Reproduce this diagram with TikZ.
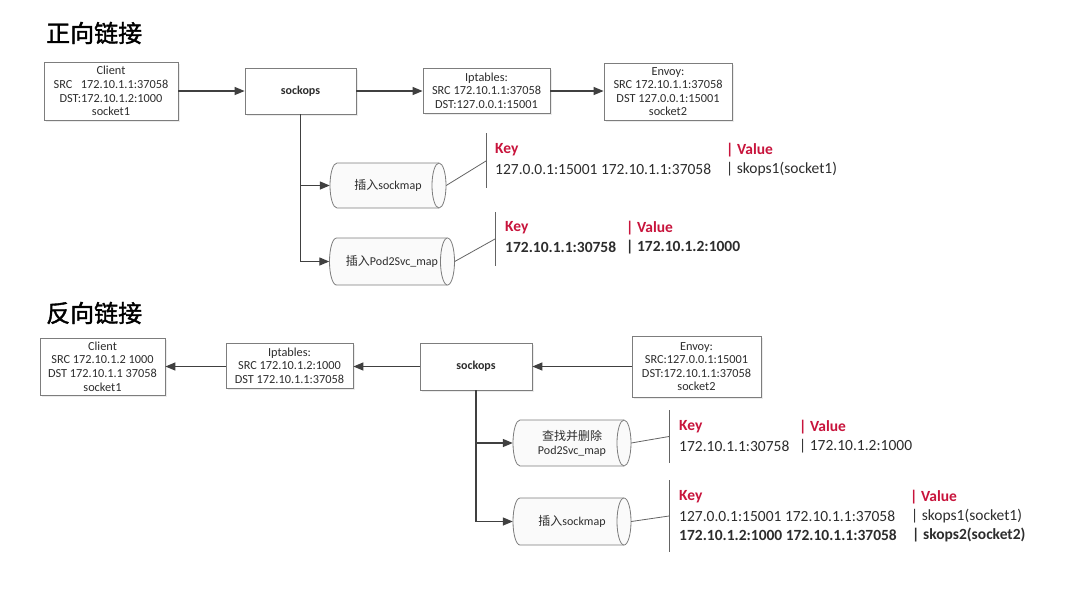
\documentclass[tikz,border=0pt]{standalone}
\usepackage{fontspec}
\setmainfont{Carlito}
\newfontfamily\cjk{Noto Sans CJK SC}
\newfontfamily\cjkb[FakeBold=1.5]{Noto Sans CJK SC}
\usetikzlibrary{arrows.meta,shadows,calc}
\definecolor{keyred}{RGB}{200,20,60}
\definecolor{txt}{RGB}{45,45,45}
\definecolor{ln}{RGB}{64,64,64}
\definecolor{bd}{RGB}{125,125,125}
\newcommand\mycyl[6]{%
  \filldraw[cylb] (#2-#4/2+7,#3-#5/2) arc[start angle=90,end angle=270,x radius=7pt,y radius={#5*0.5pt}]
     -- (#2+#4/2-7,#3+#5/2) arc[start angle=-90,end angle=90,x radius=7pt,y radius={#5*0.5pt}] -- cycle;
  \draw[cylb] (#2+#4/2-7,#3-#5/2) arc[start angle=90,end angle=270,x radius=7pt,y radius={#5*0.5pt}];
  \node[cylt,minimum width=#4pt,minimum height=#5pt] (#1) at (#2,#3) {#6};}
\begin{document}
\begin{tikzpicture}[x=1pt,y=-1pt,
  box/.style={draw=bd, line width=0.8pt, fill=white, inner sep=0pt, align=center, text=txt,
     font=\fontsize{12.3}{13.6}\selectfont,
     drop shadow={opacity=0.15,shadow xshift=1.5pt,shadow yshift=-1.5pt}},
  sbox/.style={box, font=\fontsize{12}{14}\selectfont\bfseries},
  arr/.style={draw=ln, line width=1.3pt, -{Triangle[length=10pt,width=8pt]}},
  cylb/.style={draw=bd, line width=0.8pt, fill=gray!4},
  cylt/.style={inner sep=0pt, align=center, text=txt, font=\fontsize{12}{14}\selectfont},
  brk/.style={draw=bd!80!black, line width=0.8pt},
  kv/.style={anchor=west, inner sep=0pt, text=txt, font=\fontsize{15.5}{18}\selectfont},
  kvb/.style={kv, font=\fontsize{15.5}{18}\selectfont\bfseries},
  key/.style={kv, text=keyred, font=\fontsize{15.5}{18}\selectfont\bfseries},
  ttl/.style={anchor=west, inner sep=0pt, text=black, font=\cjkb\fontsize{24}{28}\selectfont}
]
\useasboundingbox[fill=white] (0,0) rectangle (1080,590);

% ---------- forward ----------
\node[ttl] (t1) at (46,33) {正向链接};
\node[box, minimum width=134pt, minimum height=58pt] (client1) at (111,91)
  {Client\\SRC\ \ \ 172.10.1.1:37058\\DST:172.10.1.2:1000\\socket1};
\node[sbox, minimum width=111pt, minimum height=46pt] (sock1) at (300.5,91) {sockops};
\node[box, minimum width=127pt, minimum height=45pt] (ipt1) at (486.5,90.5)
  {Iptables:\\SRC 172.10.1.1:37058\\DST:127.0.0.1:15001};
\node[box, minimum width=128pt, minimum height=57pt] (env1) at (668,91.5)
  {Envoy:\\SRC 172.10.1.1:37058\\DST 127.0.0.1:15001\\socket2};
\draw[arr] (client1.east |- sock1.west) -- (sock1.west);
\draw[arr] (sock1.east) -- (ipt1.west |- sock1.east);
\draw[arr] (ipt1.east |- sock1.east) -- (env1.west |- sock1.east);

\mycyl{cyl1}{388}{185.5}{116}{45}{{\cjk 插入}sockmap}
\mycyl{cyl2}{392}{261.5}{125}{47}{{\cjk 插入}Pod2Svc\_map}
\draw[arr] (sock1.south) |- (cyl1.west);
\draw[arr] (sock1.south) |- (cyl2.west);

\coordinate (b1t) at (486,133); \coordinate (b1b) at (486,188); \coordinate (b1m) at (486,161);
\draw[brk] (b1t) -- (b1b);
\draw[brk] (cyl1.east) -- (b1m);
\node[key] (k1) at (495,150) {Key};
\node[key] (v1) at (726,150) {| Value};
\node[kv] (k1a) at (495,169) {127.0.0.1:15001 172.10.1.1:37058};
\node[kv] (v1a) at (726,169) {| skops1(socket1)};

\coordinate (b2t) at (495,212); \coordinate (b2b) at (495,266); \coordinate (b2m) at (495,239);
\draw[brk] (b2t) -- (b2b);
\draw[brk] (cyl2.east) -- (b2m);
\node[key] (k2) at (505,228) {Key};
\node[key] (v2) at (626,228) {| Value};
\node[kvb] (k2a) at (505,247) {172.10.1.1:30758};
\node[kvb] (v2a) at (626,247) {| 172.10.1.2:1000};

% ---------- reverse ----------
\node[ttl] (t2) at (46,313) {反向链接};
\node[box, minimum width=125pt, minimum height=57pt] (client2) at (102.5,366.5)
  {Client\\SRC 172.10.1.2 1000\\DST 172.10.1.1 37058\\socket1};
\node[box, minimum width=127pt, minimum height=45pt] (ipt2) at (289.5,365.5)
  {Iptables:\\SRC 172.10.1.2:1000\\DST 172.10.1.1:37058};
\node[sbox, minimum width=112pt, minimum height=47pt] (sock2) at (476,366.5) {sockops};
\node[box, minimum width=129pt, minimum height=61pt] (env2) at (696.5,366.5)
  {Envoy:\\SRC:127.0.0.1:15001\\DST:172.10.1.1:37058\\socket2};
\draw[arr] (env2.west |- sock2.east) -- (sock2.east);
\draw[arr] (sock2.west) -- (ipt2.east |- sock2.west);
\draw[arr] (ipt2.west |- sock2.west) -- (client2.east |- sock2.west);

\mycyl{cyl3}{572}{443}{118}{46}{{\cjk 查找并删除}\\Pod2Svc\_map}
\mycyl{cyl4}{572}{521.5}{118}{47}{{\cjk 插入}sockmap}
\draw[arr] (sock2.south) |- (cyl3.west);
\draw[arr] (sock2.south) |- (cyl4.west);

\coordinate (b3t) at (669,410); \coordinate (b3b) at (669,463); \coordinate (b3m) at (669,436.5);
\draw[brk] (b3t) -- (b3b);
\draw[brk] (cyl3.east) -- (b3m);
\node[key] (k3) at (679,427) {Key};
\node[key] (v3) at (799,427) {| Value};
\node[kv] (k3a) at (679,446) {172.10.1.1:30758};
\node[kv] (v3a) at (799,446) {| 172.10.1.2:1000};

\coordinate (b4t) at (669,480); \coordinate (b4b) at (669,552); \coordinate (b4m) at (669,516);
\draw[brk] (b4t) -- (b4b);
\draw[brk] (cyl4.east) -- (b4m);
\node[key] (k4) at (679,497) {Key};
\node[key] (v4) at (910,497) {| Value};
\node[kv] (k4a) at (679,516) {127.0.0.1:15001 172.10.1.1:37058};
\node[kv] (v4a) at (911,516) {| skops1(socket1)};
\node[kvb] (k4b) at (679,535) {172.10.1.2:1000 172.10.1.1:37058};
\node[kvb] (v4b) at (912,535) {| skops2(socket2)};
\end{tikzpicture}
\end{document}
